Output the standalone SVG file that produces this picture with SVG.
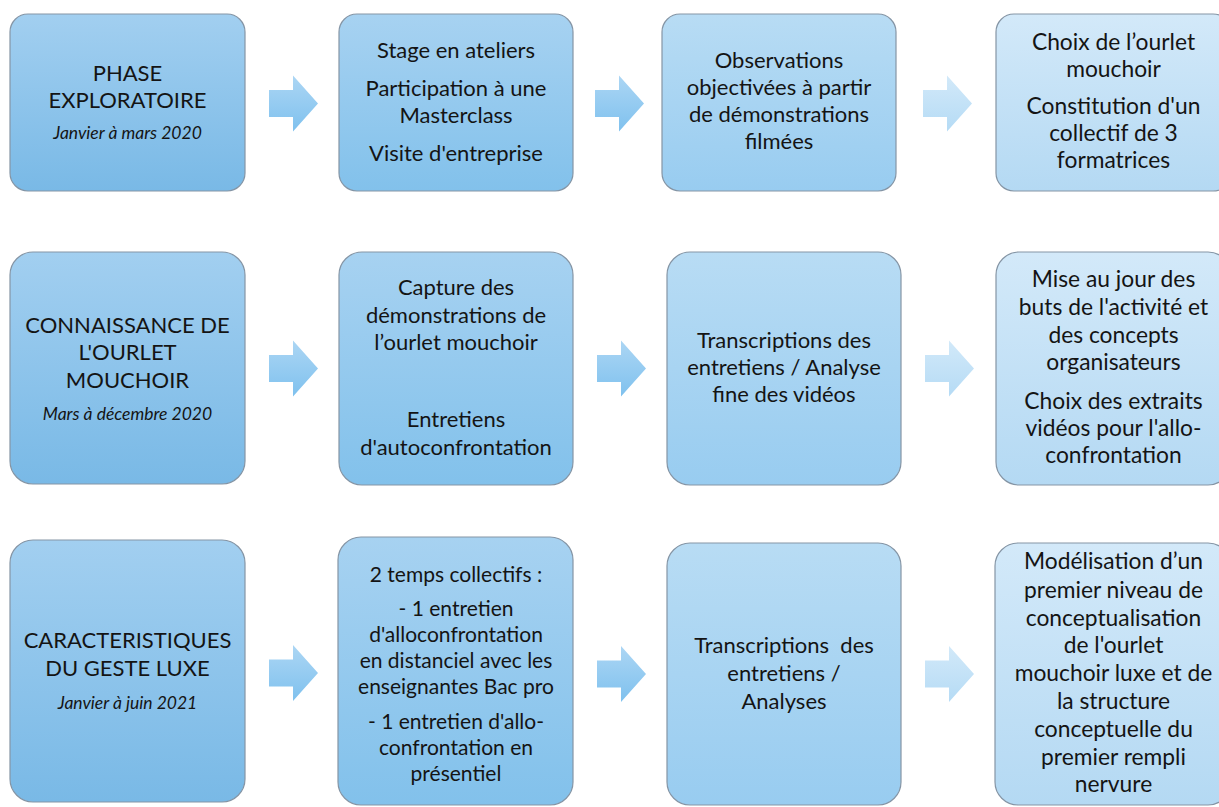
<svg xmlns="http://www.w3.org/2000/svg" width="1219" height="807" viewBox="0 0 1219 807">
<defs>
<linearGradient id="gA" x1="0" y1="0" x2="0" y2="1"><stop offset="0" stop-color="#a2cff0"/><stop offset="1" stop-color="#79b9e6"/></linearGradient>
<linearGradient id="gB" x1="0" y1="0" x2="0" y2="1"><stop offset="0" stop-color="#a7d2f1"/><stop offset="1" stop-color="#82c1eb"/></linearGradient>
<linearGradient id="gC" x1="0" y1="0" x2="0" y2="1"><stop offset="0" stop-color="#b8dcf4"/><stop offset="1" stop-color="#98ccf0"/></linearGradient>
<linearGradient id="gD" x1="0" y1="0" x2="0" y2="1"><stop offset="0" stop-color="#d3e9f9"/><stop offset="1" stop-color="#b4d9f3"/></linearGradient>
<linearGradient id="gArr" x1="0" y1="0" x2="0" y2="1"><stop offset="0" stop-color="#acd6f4"/><stop offset="1" stop-color="#7fc1ee"/></linearGradient>
<linearGradient id="gArr3" x1="0" y1="0" x2="0" y2="1"><stop offset="0" stop-color="#d2e9f9"/><stop offset="1" stop-color="#b5dbf5"/></linearGradient>
<path id="arrow" d="M0,-13.5 H24 V-28 L49,0 L24,28 V13.5 H0 Z"/>
</defs>
<style>
.box{stroke:#8595a5;stroke-width:1.2}
text{font-family:Lato,"Liberation Sans",sans-serif;font-size:22px;fill:#141414;text-anchor:middle}
.it{font-style:italic;font-size:17.5px}
.sm{font-size:21px}
.d{font-size:22.8px}
</style>
<rect width="1219" height="807" fill="#ffffff"/>

<g id="connectors">
<use href="#arrow" x="269" y="103.5" fill="url(#gArr)"/>
<use href="#arrow" x="595" y="103.5" fill="url(#gArr)"/>
<use href="#arrow" x="923" y="103.5" fill="url(#gArr3)"/>
<use href="#arrow" x="269" y="368.5" fill="url(#gArr)"/>
<use href="#arrow" x="597" y="368.5" fill="url(#gArr)"/>
<use href="#arrow" x="925" y="368.5" fill="url(#gArr3)"/>
<use href="#arrow" x="269" y="673" fill="url(#gArr)"/>
<use href="#arrow" x="597" y="674" fill="url(#gArr)"/>
<use href="#arrow" x="925" y="674" fill="url(#gArr3)"/>
</g>

<g id="phase1">
<rect class="box" x="10" y="14" width="235" height="177" rx="18" fill="url(#gA)"/>
<text x="127.5" y="81">PHASE</text>
<text x="127.5" y="108">EXPLORATOIRE</text>
<text class="it" x="127.5" y="139">Janvier à mars 2020</text>
</g>
<g id="step1b">
<rect class="box" x="339" y="14" width="234" height="177" rx="18" fill="url(#gB)"/>
<text x="456" y="58">Stage en ateliers</text>
<text x="456" y="96">Participation à une</text>
<text x="456" y="123">Masterclass</text>
<text x="456" y="161">Visite d'entreprise</text>
</g>
<g id="step1c">
<rect class="box" x="662" y="14" width="234" height="177" rx="18" fill="url(#gC)"/>
<text x="779" y="68">Observations</text>
<text x="779" y="95">objectivées à partir</text>
<text x="779" y="122">de démonstrations</text>
<text x="779" y="149">filmées</text>
</g>
<g id="step1d">
<rect class="box" x="996" y="14" width="235" height="177" rx="18" fill="url(#gD)"/>
<text class="d" x="1113.5" y="50">Choix de l’ourlet</text>
<text class="d" x="1113.5" y="77">mouchoir</text>
<text class="d" x="1113.5" y="114">Constitution d'un</text>
<text class="d" x="1113.5" y="141">collectif de 3</text>
<text class="d" x="1113.5" y="168">formatrices</text>
</g>

<g id="phase2">
<rect class="box" x="10" y="252" width="235" height="232" rx="23" fill="url(#gA)"/>
<text x="127.5" y="333">CONNAISSANCE DE</text>
<text x="127.5" y="360">L'OURLET</text>
<text x="127.5" y="388">MOUCHOIR</text>
<text class="it" x="127.5" y="420">Mars à décembre 2020</text>
</g>
<g id="step2b">
<rect class="box" x="339" y="252" width="234" height="233" rx="23" fill="url(#gB)"/>
<text x="456" y="295">Capture des</text>
<text x="456" y="323">démonstrations de</text>
<text x="456" y="350">l’ourlet mouchoir</text>
<text x="456" y="427">Entretiens</text>
<text x="456" y="455">d'autoconfrontation</text>
</g>
<g id="step2c">
<rect class="box" x="667" y="252" width="234" height="233" rx="23" fill="url(#gC)"/>
<text x="784" y="348">Transcriptions des</text>
<text x="784" y="375">entretiens / Analyse</text>
<text x="784" y="402">fine des vidéos</text>
</g>
<g id="step2d">
<rect class="box" x="996" y="252" width="235" height="233" rx="23" fill="url(#gD)"/>
<text class="d" x="1113.5" y="287">Mise au jour des</text>
<text class="d" x="1113.5" y="315">buts de l'activité et</text>
<text class="d" x="1113.5" y="343">des concepts</text>
<text class="d" x="1113.5" y="370">organisateurs</text>
<text class="d" x="1113.5" y="409">Choix des extraits</text>
<text class="d" x="1113.5" y="436">vidéos pour l'allo-</text>
<text class="d" x="1113.5" y="463">confrontation</text>
</g>

<g id="phase3">
<rect class="box" x="10" y="540" width="235" height="262" rx="23" fill="url(#gA)"/>
<text x="127.5" y="648">CARACTERISTIQUES</text>
<text x="127.5" y="676">DU GESTE LUXE</text>
<text class="it" x="127.5" y="709">Janvier à juin 2021</text>
</g>
<g id="step3b">
<rect class="box" x="338" y="537" width="235" height="268" rx="23" fill="url(#gB)"/>
<text class="sm" x="456" y="582">2 temps collectifs :</text>
<text class="sm" x="456" y="616">- 1 entretien</text>
<text class="sm" x="456" y="642">d'alloconfrontation</text>
<text class="sm" x="456" y="668">en distanciel avec les</text>
<text class="sm" x="456" y="694">enseignantes Bac pro</text>
<text class="sm" x="456" y="729">- 1 entretien d'allo-</text>
<text class="sm" x="456" y="755">confrontation en</text>
<text class="sm" x="456" y="781">présentiel</text>
</g>
<g id="step3c">
<rect class="box" x="667" y="543" width="234" height="262" rx="23" fill="url(#gC)"/>
<text x="784" y="653" xml:space="preserve">Transcriptions  des</text>
<text x="784" y="681">entretiens /</text>
<text x="784" y="709">Analyses</text>
</g>
<g id="step3d">
<rect class="box" x="995" y="543" width="236" height="262" rx="23" fill="url(#gD)"/>
<text class="d" x="1113.5" y="569">Modélisation d’un</text>
<text class="d" x="1113.5" y="598">premier niveau de</text>
<text class="d" x="1113.5" y="626">conceptualisation</text>
<text class="d" x="1113.5" y="653">de l'ourlet</text>
<text class="d" x="1113.5" y="681">mouchoir luxe et de</text>
<text class="d" x="1113.5" y="709">la structure</text>
<text class="d" x="1113.5" y="737">conceptuelle du</text>
<text class="d" x="1113.5" y="765">premier rempli</text>
<text class="d" x="1113.5" y="792">nervure</text>
</g>
</svg>
